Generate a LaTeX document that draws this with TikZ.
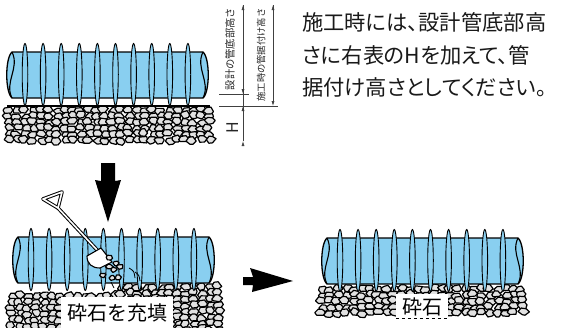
\documentclass[tikz,border=0pt]{standalone}
\usepackage{fontspec}
\setmainfont{Noto Sans CJK JP}
\newfontfamily\notafont{Noto Sans CJK JP}[RawFeature=+palt]
\usetikzlibrary{arrows.meta,calc}
\definecolor{azzurro}{RGB}{137,207,240}
\definecolor{grigio}{RGB}{226,226,226}
\tikzset{
>=Stealth,
tubo/.style={fill=azzurro,draw=black,line width=1.3pt,line join=round},
bordo/.style={draw=black,line width=1.1pt},
costola/.style={fill=azzurro,draw=black,line width=0.9pt},
sasso/.style={fill=grigio,draw=black,line width=1.2pt,line join=round},
quota/.style={draw=black!75,line width=0.6pt},
freccia quota/.style={-{Latex[length=5pt,width=3pt]},draw=black!75,line width=0.6pt},
freccia grande/.style={fill=black},
manico/.style={draw=black,line width=3.6pt,line join=round,line cap=round},
manico interno/.style={draw=white,line width=1.6pt,line join=round,line cap=round},
pala/.style={fill=white,draw=black,line width=1.1pt,line join=round},
nota/.style={anchor=base west,inner sep=0pt,font=\notafont\fontsize{21.3}{26}\selectfont,text=black!90},
verticale/.style={rotate=90,inner sep=0pt,text=black!85},
etichetta/.style={fill=white,inner xsep=6pt,inner ysep=4pt,font=\fontsize{20}{24}\selectfont}}
\newcommand{\sasso}[3]{\draw[sasso,shift={({#1+4*rnd-2},{#2+3*rnd-1.5})},yscale=0.75]
  ({30*rnd-15}:{#3+1.6*rnd-0.8}) -- ({45+30*rnd}:{#3+1.6*rnd-0.8}) -- ({105+30*rnd}:{#3+1.6*rnd-0.8})
  -- ({165+30*rnd}:{#3+1.6*rnd-0.8}) -- ({225+30*rnd}:{#3+1.6*rnd-0.8}) -- ({285+30*rnd}:{#3+1.6*rnd-0.8}) -- cycle;}

\begin{document}
\begin{tikzpicture}[x=1pt,y=-1pt]
\useasboundingbox (0,0) rectangle (570,327);
\pgfmathsetseed{11}

\begin{scope}
\clip (0,106) rectangle (230,150);
\foreach \x in {9,17,...,209}{
  \foreach \y in {110,116,...,140}{\sasso{\x}{\y}{5}}}
\end{scope}
\draw[bordo] (7,106) -- (210,106);

\foreach \x in {12,20,...,118}{
  \foreach \y in {296,302,...,330}{\sasso{\x}{\y}{5}}}
\foreach \x in {122,130,...,220}{
  \foreach \y in {287,293,...,330}{\sasso{\x}{\y}{5}}}

\foreach \x in {322,330,...,524}{
  \foreach \y in {289,295,...,315}{\sasso{\x}{\y}{5}}}

\foreach \px/\py in {8/52,14/237,323/238}{
\begin{scope}[shift={(\px,\py)}]
\draw[tubo] (4,0) -- (195,0) .. controls (202,6) and (202,40) .. (195,46) -- (4,46) .. controls (-3,40) and (-3,6) .. (4,0) -- cycle;
\draw[bordo] (4,0) .. controls (12,16) and (-4,30) .. (4,46);
\draw[bordo] (195,0) .. controls (187,16) and (203,30) .. (195,46);
\foreach \i in {0,...,9}{
  \draw[costola] ({17+18.1*\i},22.5) ellipse [x radius=2.8,y radius=31];}
\end{scope}}

\coordinate (d1top) at (243,5);
\coordinate (d1a) at (243,94);
\coordinate (d1b) at (243,106);
\coordinate (d1bot) at (243,141);
\coordinate (d2top) at (273,5);
\coordinate (d2b) at (273,106);
\coordinate (h1l) at (219,94);
\coordinate (h1r) at (249,94);
\coordinate (h2l) at (219,106);
\coordinate (h2r) at (278,106);
\draw[quota] (d1top) -- (d1bot);
\draw[quota] (h1l) -- (h1r);
\draw[quota] (h2l) -- (h2r);
\path[freccia quota] (d1top) edge (d1a);
\path[freccia quota] (d1bot) edge (d1b);
\path[freccia quota] (d2top) edge (d2b);

\node[verticale,font=\fontsize{10.3}{12}\selectfont] (v1) at (230,49) {設計の管底部高さ};
\node[verticale,font=\fontsize{9.3}{11}\selectfont] (v2) at (261,55) {施工時の管据付け高さ};
\node[verticale,font=\fontsize{16}{18}\selectfont] (h) at (233,128) {H};

\node[nota] (r1) at (302,30) {施工時には、設計管底部高};
\node[nota] (r2) at (302,63) {さに右表のHを加えて、管};
\node[nota] (r3) at (302,95) {据付け高さとしてください。};

\fill[freccia grande] (101,163) -- (115,163) -- (115,181) -- (121,180) -- (108,222) -- (95,180) -- (101,181) -- cycle;
\fill[freccia grande] (243,277) -- (253,277) -- (250,268) -- (293,281) -- (252,292) -- (253,285) -- (243,285) -- cycle;

\coordinate (m1) at (43,199);
\coordinate (m2) at (62,192);
\coordinate (m3) at (58,208);
\coordinate (b1) at (98,251);
\draw[manico] (m1) -- (m2) -- (m3) -- cycle;
\draw[manico] (m3) -- (b1);
\draw[manico interno] (m1) -- (m2) -- (m3) -- cycle;
\draw[manico interno] (m3) -- (b1);
\draw[pala] (101,248) -- (87,256) .. controls (87,264) and (92,268) .. (100,268) -- (112,262) -- cycle;
\foreach \sx/\sy in {110/259,117/263,108/268,115/270,121/268,111/277,118/277,104/275}{
  \sasso{\sx}{\sy}{3.4}}
\draw[bordo,line width=0.8pt] (129,268) .. controls (134,271) .. (135,278);
\draw[bordo,line width=0.8pt] (135,272) .. controls (139,275) .. (140,281);
\draw[bordo,line width=0.7pt] (111,282) -- (114,288);

\node[etichetta,anchor=base,inner ysep=6pt] (e1) at (117,320) {砕石を充填};
\node[etichetta,anchor=base,inner ysep=3pt] (e2) at (422,314) {砕石};
\draw[dashed,line width=0.8pt] (e2.south west) -- (e2.south east);

\end{tikzpicture}
\end{document}
